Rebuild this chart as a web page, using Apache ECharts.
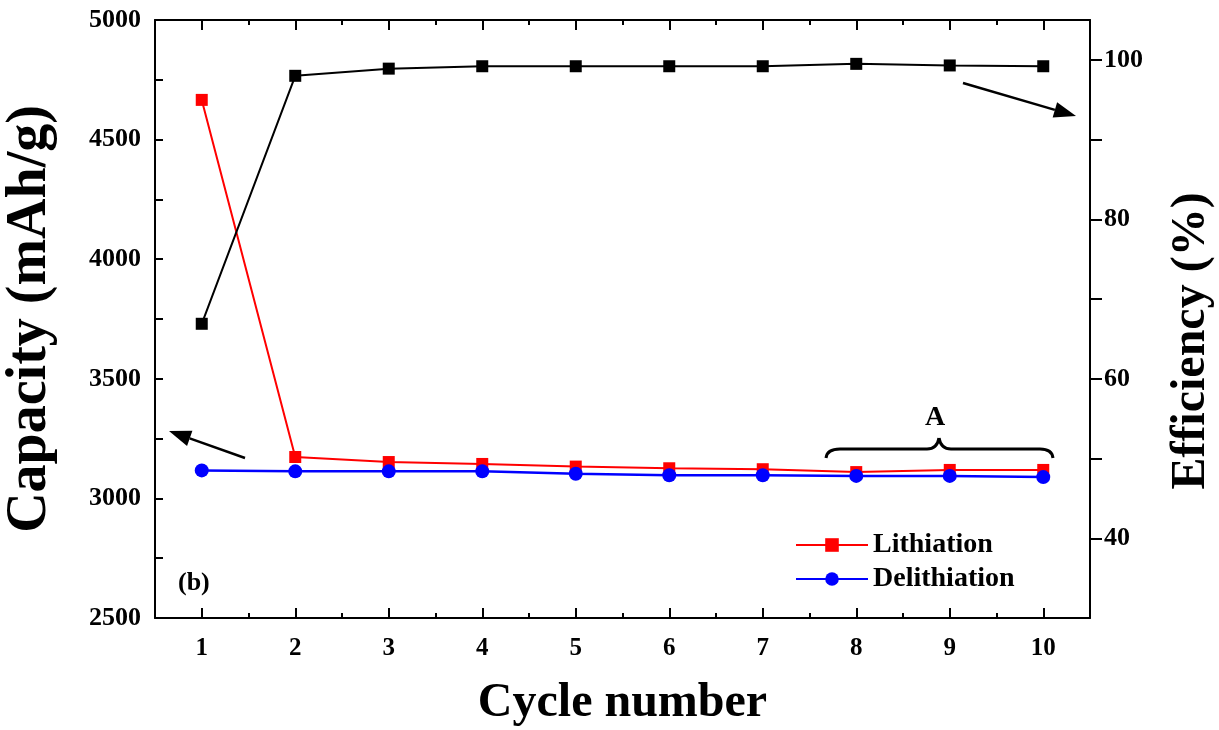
<!DOCTYPE html>
<html>
<head>
<meta charset="utf-8">
<script src="https://cdn.jsdelivr.net/npm/echarts@6/dist/echarts.min.js"></script>
<style>
  html, body { margin: 0; padding: 0; background: #fff; }
  #main { width: 1219px; height: 730px; }
</style>
</head>
<body>
<div id="main"></div>
<script>
// data
var cycles = [1, 2, 3, 4, 5, 6, 7, 8, 9, 10];
var lithiation = [4666, 3173, 3152, 3144, 3133, 3126, 3122, 3110, 3119, 3119];
var delithiation = [3117, 3113, 3113, 3113, 3103, 3097, 3097, 3094, 3094, 3089];
var efficiency = [66.9, 98.0, 98.9, 99.2, 99.2, 99.2, 99.2, 99.5, 99.3, 99.2];
var capacityTicks = [2500, 2750, 3000, 3250, 3500, 3750, 4000, 4250, 4500, 4750, 5000];
var capacityLabels = [2500, 3000, 3500, 4000, 4500, 5000];
var effTicks = [40, 50, 60, 70, 80, 90, 100];
var effLabels = [40, 60, 80, 100];

var halfCycles = cycles.slice(0, -1).map(function (c) { return c + 0.5; });
var FONT = "'Liberation Serif', 'Times New Roman', serif";
var black = "#000";

function pairs(ys) {
  return cycles.map(function (c, i) { return [c, ys[i]]; });
}

function plain(v) { return String(v); }

function arrow(x1, y1, x2, y2) {
  var dx = x2 - x1, dy = y2 - y1;
  var len = Math.sqrt(dx * dx + dy * dy);
  var ux = dx / len, uy = dy / len;
  var hl = 22, hw = 8;
  var bx = x2 - ux * hl, by = y2 - uy * hl;
  return [
    { type: "line", shape: { x1: x1, y1: y1, x2: bx, y2: by }, style: { stroke: black, lineWidth: 2.5 } },
    { type: "polygon", shape: { points: [[x2, y2], [bx - uy * hw, by + ux * hw], [bx + uy * hw, by - ux * hw]] }, style: { fill: black } }
  ];
}

function xAx(pos, values, len, showLine, showLabel, name) {
  return {
    type: "value",
    position: pos,
    min: 0.5,
    max: 10.5,
    axisLine: { show: showLine, lineStyle: { color: black, width: 2 } },
    axisTick: { show: true, inside: true, length: len, customValues: values, lineStyle: { color: black, width: 2 } },
    axisLabel: {
      show: showLabel, customValues: cycles, margin: 18, formatter: plain,
      color: black, fontFamily: FONT, fontWeight: "bold", fontSize: 25
    },
    splitLine: { show: false },
    name: name,
    nameLocation: "middle",
    nameGap: 62,
    nameTextStyle: { color: black, fontFamily: FONT, fontWeight: "bold", fontSize: 48 }
  };
}

var chart = echarts.init(document.getElementById("main"));

var graphics = [
  { type: "text", left: 178, top: 570, style: { text: "(b)", fill: black, font: "bold 26px " + FONT } },
  { type: "text", x: 935, y: 418, style: { text: "A", fill: black, font: "bold 28px " + FONT, align: "center", verticalAlign: "middle" } },
  { type: "bezierCurve", shape: { x1: 826, y1: 458, cpx1: 827, cpy1: 449, x2: 840, y2: 449 }, style: { stroke: black, lineWidth: 3, fill: null } },
  { type: "line", shape: { x1: 840, y1: 449, x2: 927, y2: 449 }, style: { stroke: black, lineWidth: 3 } },
  { type: "bezierCurve", shape: { x1: 927, y1: 449, cpx1: 937, cpy1: 449, x2: 939, y2: 438 }, style: { stroke: black, lineWidth: 3, fill: null } },
  { type: "bezierCurve", shape: { x1: 939, y1: 438, cpx1: 941, cpy1: 449, x2: 951, y2: 449 }, style: { stroke: black, lineWidth: 3, fill: null } },
  { type: "line", shape: { x1: 951, y1: 449, x2: 1040, y2: 449 }, style: { stroke: black, lineWidth: 3 } },
  { type: "bezierCurve", shape: { x1: 1040, y1: 449, cpx1: 1052, cpy1: 449, x2: 1053, y2: 458 }, style: { stroke: black, lineWidth: 3, fill: null } }
].concat(arrow(245, 458, 169, 431)).concat(arrow(963, 83, 1076, 116));

var option = {
  animation: false,
  backgroundColor: "#fff",
  grid: { left: 155, right: 129, top: 20, bottom: 112, containLabel: false, outerBoundsMode: "none" },
  legend: {
    data: ["Lithiation", "Delithiation"],
    orient: "vertical",
    left: 790,
    top: 526,
    itemWidth: 72,
    itemHeight: 17,
    itemGap: 6,
    textStyle: { color: black, fontFamily: FONT, fontWeight: "bold", fontSize: 28 }
  },
  xAxis: [
    xAx("bottom", cycles, 10, true, true, "Cycle number"),
    xAx("bottom", halfCycles, 5, false, false, ""),
    xAx("top", cycles, 10, true, false, ""),
    xAx("top", halfCycles, 5, false, false, "")
  ],
  yAxis: [
    {
      type: "value",
      position: "left",
      min: 2500,
      max: 5000,
      axisLine: { show: true, lineStyle: { color: black, width: 2 } },
      axisTick: { inside: true, length: 8, customValues: capacityTicks, lineStyle: { color: black, width: 2 } },
      axisLabel: { customValues: capacityLabels, formatter: plain, margin: 14, color: black, fontFamily: FONT, fontWeight: "bold", fontSize: 26 },
      splitLine: { show: false },
      name: "Capacity (mAh/g)",
      nameLocation: "middle",
      nameGap: 96,
      nameTextStyle: { color: black, fontFamily: FONT, fontWeight: "bold", fontSize: 56 }
    },
    {
      type: "value",
      position: "right",
      min: 30,
      max: 105,
      axisLine: { show: true, lineStyle: { color: black, width: 2 } },
      axisTick: { inside: false, length: 12, customValues: effTicks, lineStyle: { color: black, width: 2 } },
      axisLabel: { customValues: effLabels, formatter: plain, margin: 14, color: black, fontFamily: FONT, fontWeight: "bold", fontSize: 26 },
      splitLine: { show: false },
      name: "Efficiency (%)",
      nameLocation: "middle",
      nameGap: 78,
      nameRotate: 90,
      nameTextStyle: { color: black, fontFamily: FONT, fontWeight: "bold", fontSize: 48, padding: [0, 44, 0, 0] }
    }
  ],
  graphic: graphics,
  series: [
    {
      name: "Lithiation",
      type: "line",
      xAxisIndex: 0,
      yAxisIndex: 0,
      data: pairs(lithiation),
      symbol: "rect",
      symbolSize: 12,
      itemStyle: { color: "#ff0000" },
      lineStyle: { color: "#ff0000", width: 2 }
    },
    {
      name: "Delithiation",
      type: "line",
      xAxisIndex: 0,
      yAxisIndex: 0,
      data: pairs(delithiation),
      symbol: "circle",
      symbolSize: 14,
      itemStyle: { color: "#0000ff" },
      lineStyle: { color: "#0000ff", width: 2.5 }
    },
    {
      name: "Efficiency",
      type: "line",
      xAxisIndex: 0,
      yAxisIndex: 1,
      data: pairs(efficiency),
      symbol: "rect",
      symbolSize: 12,
      itemStyle: { color: black },
      lineStyle: { color: black, width: 2 }
    }
  ]
};

chart.setOption(option);
</script>
</body>
</html>
